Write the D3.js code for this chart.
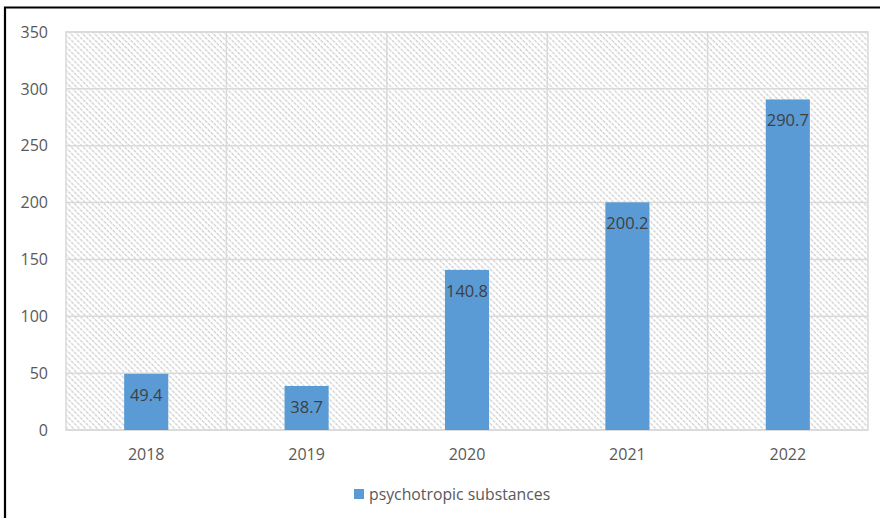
<!DOCTYPE html>
<html>
<head>
<meta charset="utf-8">
<script src="https://cdn.jsdelivr.net/npm/d3@7"></script>
<style>
  html, body { margin: 0; padding: 0; background: #fff; }
  svg { display: block; font-family: "Open Sans", "Noto Sans", sans-serif; }
</style>
</head>
<body>
<svg id="chart" width="880" height="518"></svg>
<script>
const categories = ["2018", "2019", "2020", "2021", "2022"];
const values = [49.4, 38.7, 140.8, 200.2, 290.7];
const yTicks = [0, 50, 100, 150, 200, 250, 300, 350];
const seriesName = "psychotropic substances";

const svg = d3.select("#chart");
const pLeft = 66, pRight = 868, pTop = 32, pBottom = 430;

const defs = svg.append("defs");
const pat = defs.append("pattern")
  .attr("id", "hatch")
  .attr("patternUnits", "userSpaceOnUse")
  .attr("width", 4.2).attr("height", 4.2)
  .attr("patternTransform", "rotate(-45)");
pat.append("rect").attr("width", 4.2).attr("height", 4.2).attr("fill", "#fff");
pat.append("line")
  .attr("x1", 1).attr("y1", 0).attr("x2", 1).attr("y2", 4.2)
  .attr("stroke", "#cccccc").attr("stroke-width", 1.2)
  .attr("stroke-dasharray", "2.1,1");

// outer frame
svg.append("path")
  .attr("d", "M5,530V7.5H890")
  .attr("fill", "none").attr("stroke", "#000").attr("stroke-width", 2.2);

const x = d3.scaleBand().domain(categories).range([pLeft, pRight]).padding(0);
const y = d3.scaleLinear().domain([0, 350]).range([pBottom, pTop]);

// plot background hatch
svg.append("rect")
  .attr("x", pLeft).attr("y", pTop)
  .attr("width", pRight - pLeft).attr("height", pBottom - pTop)
  .attr("fill", "url(#hatch)");

// horizontal gridlines
svg.append("g").selectAll("line").data(yTicks).join("line")
  .attr("x1", pLeft).attr("x2", pRight)
  .attr("y1", d => y(d)).attr("y2", d => y(d))
  .attr("stroke", "#d9d9d9").attr("stroke-width", 1.5);

// vertical gridlines at band boundaries
svg.append("g").selectAll("line").data(categories.slice(1)).join("line")
  .attr("x1", d => x(d)).attr("x2", d => x(d))
  .attr("y1", pTop).attr("y2", pBottom)
  .attr("stroke", "#d9d9d9").attr("stroke-width", 1.5);

// plot border
svg.append("rect")
  .attr("x", pLeft).attr("y", pTop)
  .attr("width", pRight - pLeft).attr("height", pBottom - pTop)
  .attr("fill", "none").attr("stroke", "#d9d9d9").attr("stroke-width", 1.5);

// bars
const bw = x.bandwidth() * 0.275;
svg.append("g").selectAll("rect").data(values).join("rect")
  .attr("x", (d, i) => x(categories[i]) + x.bandwidth() / 2 - bw / 2)
  .attr("y", d => y(d))
  .attr("width", bw)
  .attr("height", d => y(0) - y(d))
  .attr("fill", "#5b9bd5");

// data labels
svg.append("g").selectAll("text").data(values).join("text")
  .attr("x", (d, i) => x(categories[i]) + x.bandwidth() / 2)
  .attr("y", d => y(d) + 27)
  .attr("text-anchor", "middle")
  .attr("font-size", 16.5)
  .attr("fill", "#404040")
  .text(d => d.toFixed(1));

// y axis labels
svg.append("g").selectAll("text").data(yTicks).join("text")
  .attr("x", pLeft - 18)
  .attr("y", d => y(d))
  .attr("dy", "0.36em")
  .attr("text-anchor", "end")
  .attr("font-size", 16)
  .attr("fill", "#595959")
  .text(d => d);

// x axis labels
svg.append("g").selectAll("text").data(categories).join("text")
  .attr("x", d => x(d) + x.bandwidth() / 2)
  .attr("y", 460)
  .attr("text-anchor", "middle")
  .attr("font-size", 16)
  .attr("fill", "#595959")
  .text(d => d);

// legend
const lg = svg.append("g");
lg.append("rect").attr("x", 354).attr("y", 489).attr("width", 10).attr("height", 10).attr("fill", "#5b9bd5");
lg.append("text").attr("x", 369).attr("y", 499.5)
  .attr("font-size", 15.8).attr("fill", "#595959").text(seriesName);
</script>
</body>
</html>
